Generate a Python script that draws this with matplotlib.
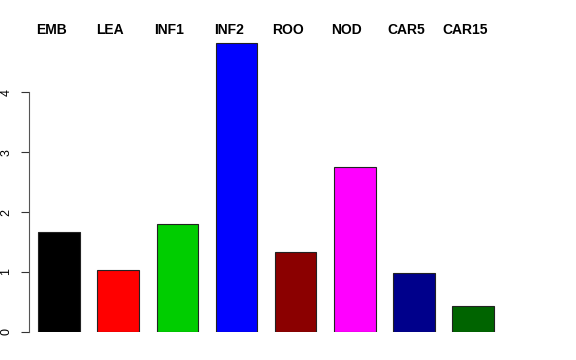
import matplotlib
matplotlib.use("Agg")
import matplotlib.pyplot as plt
import matplotlib.transforms as mtransforms

# --- data ---
tissues = ["EMB", "LEA", "INF1", "INF2", "ROO", "NOD", "CAR5", "CAR15"]
values = [1.666, 1.03, 1.795, 4.83, 1.337, 2.747, 0.976, 0.424]
colors = ["#000000", "#FF0000", "#00CD00", "#0000FF",
          "#8B0000", "#FF00FF", "#00008B", "#006400"]
yticks = [0, 1, 2, 3, 4]

plt.rcParams["font.family"] = ["Liberation Sans", "DejaVu Sans"]

fig = plt.figure(figsize=(5.76, 3.6), dpi=100)
ax = fig.add_axes([29 / 576, 28.3 / 360, 491 / 576, 299.25 / 360])

x = list(range(len(tissues)))
ax.bar(x, values, width=0.705, color=colors, edgecolor="#222222", linewidth=0.8)

ax.set_xlim(-0.511, 7.797)
ax.set_ylim(0, 5)

# --- axes styling (R barplot look) ---
for side in ["top", "right", "bottom"]:
    ax.spines[side].set_visible(False)
ax.spines["left"].set_bounds(0, 4)
ax.spines["left"].set_color("#555555")
ax.spines["left"].set_linewidth(0.8)
ax.set_xticks([])
ax.set_yticks(yticks)
ax.set_yticklabels([str(t) for t in yticks], rotation=90, va="center", fontsize=9)
ax.tick_params(axis="y", length=6, width=0.8, color="#333333", pad=6)

# --- tissue labels along the top ---
trans = mtransforms.blended_transform_factory(ax.transData, fig.transFigure)
for xi, name in zip(x, tissues):
    ax.text(xi - 0.135, 1 - 30 / 360, name, transform=trans, ha="center",
            va="center", fontsize=10, fontweight="bold", clip_on=False)

fig.savefig("out.png", dpi=100)
